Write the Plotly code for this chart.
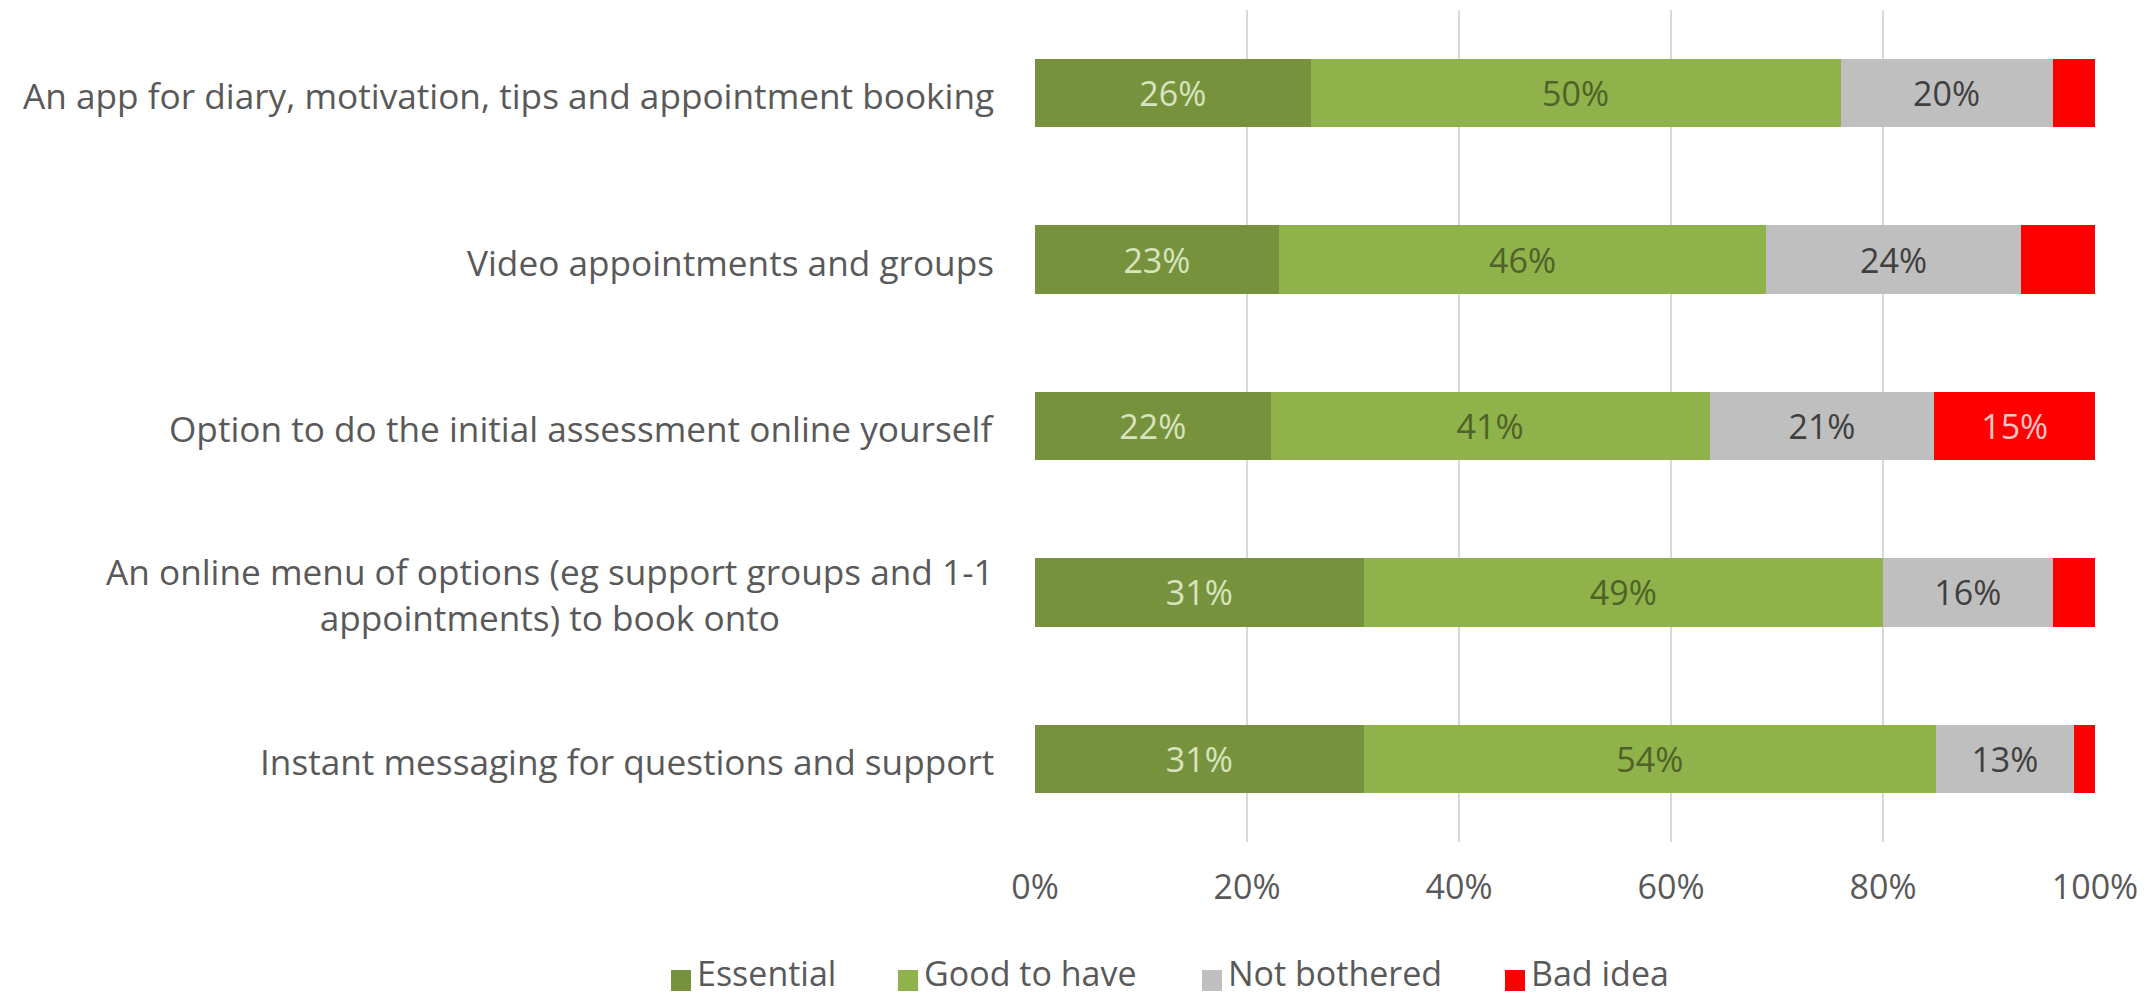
import plotly.graph_objects as go

# Survey: how people rate possible digital service features
categories = [
    "An app for diary, motivation, tips and appointment booking",
    "Video appointments and groups",
    "Option to do the initial assessment online yourself",
    "An online menu of options (eg support groups and 1-1<br>appointments) to book onto",
    "Instant messaging for questions and support",
]
series_names = ["Essential", "Good to have", "Not bothered", "Bad idea"]
essential = [26, 23, 22, 31, 31]
good_to_have = [50, 46, 41, 49, 54]
not_bothered = [20, 24, 21, 16, 13]
bad_idea = [4, 7, 15, 4, 2]
tick_values = [0, 20, 40, 60, 80, 100]

series_values = [essential, good_to_have, not_bothered, bad_idea]
bar_colors = ["#76923C", "#8FB24B", "#BFBFBF", "#FF0000"]
label_colors = ["#D7E4BD", "#4F6228", "#404040", "#FFC4C4"]

FONT = "Open Sans"
TEXT_GREY = "#595959"
FS = 34
FS_CAT = 35.2

# plot-area geometry (pixels)
W_FIG, H_FIG = 2154, 999
M_L, M_R, M_T, M_B = 1035, 59, 10, 157
PW = W_FIG - M_L - M_R
PH = H_FIG - M_T - M_B


def paper_x(px):
    return (px - M_L) / PW


def paper_y(py):
    return (H_FIG - M_B - py) / PH


fig = go.Figure()
for name, vals, col, lcol in zip(series_names, series_values, bar_colors, label_colors):
    fig.add_trace(go.Bar(
        name=name,
        y=categories,
        x=vals,
        orientation="h",
        marker=dict(color=col, line=dict(width=0)),
        text=[f"{v}%" if v >= 10 else "" for v in vals],
        textposition="inside",
        insidetextanchor="middle",
        constraintext="none",
        textangle=0,
        textfont=dict(family=FONT, size=FS, color=lcol),
        showlegend=False,
        hoverinfo="skip",
    ))

# category labels, centred per line and right-aligned against the axis
annotations = []
for c in categories:
    annotations.append(dict(
        x=0, xref="paper", xanchor="right", xshift=-39,
        y=c, yref="y", yanchor="middle", yshift=-2,
        text=c, showarrow=False, align="center",
        font=dict(family=FONT, size=FS_CAT, color=TEXT_GREY),
    ))

# legend below the axis
legend_left_px = [671, 898, 1202, 1505]
legend_y_px = 973
shapes = []
for name, col, lx in zip(series_names, bar_colors, legend_left_px):
    shapes.append(dict(
        type="rect", xref="paper", yref="paper",
        x0=paper_x(lx), x1=paper_x(lx + 20),
        y0=paper_y(legend_y_px - 3), y1=paper_y(legend_y_px + 18),
        fillcolor=col, line=dict(width=0),
    ))
    annotations.append(dict(
        x=paper_x(lx + 25), xref="paper", xanchor="left",
        y=paper_y(legend_y_px), yref="paper", yanchor="middle",
        text=name, showarrow=False, borderpad=0,
        font=dict(family=FONT, size=FS, color=TEXT_GREY),
    ))

fig.update_layout(
    width=W_FIG, height=H_FIG,
    margin=dict(l=M_L, r=M_R, t=M_T, b=M_B, pad=0),
    barmode="stack",
    barnorm="percent",
    bargap=0.59,
    paper_bgcolor="white",
    plot_bgcolor="white",
    font=dict(family=FONT, size=FS, color=TEXT_GREY),
    annotations=annotations,
    shapes=shapes,
    xaxis=dict(
        range=[0, 100],
        tickvals=tick_values,
        ticktext=[f"{v}%" for v in tick_values],
        showgrid=True, gridcolor="#D9D9D9", gridwidth=2,
        zeroline=False, showline=False, ticks="",
        ticklabelstandoff=22,
        tickfont=dict(family=FONT, size=FS, color=TEXT_GREY),
        fixedrange=True,
    ),
    yaxis=dict(
        autorange="reversed",
        showticklabels=False, showgrid=False, zeroline=False,
        showline=False, ticks="",
        fixedrange=True,
    ),
)

fig.write_html("out.html", config={"displayModeBar": False})
